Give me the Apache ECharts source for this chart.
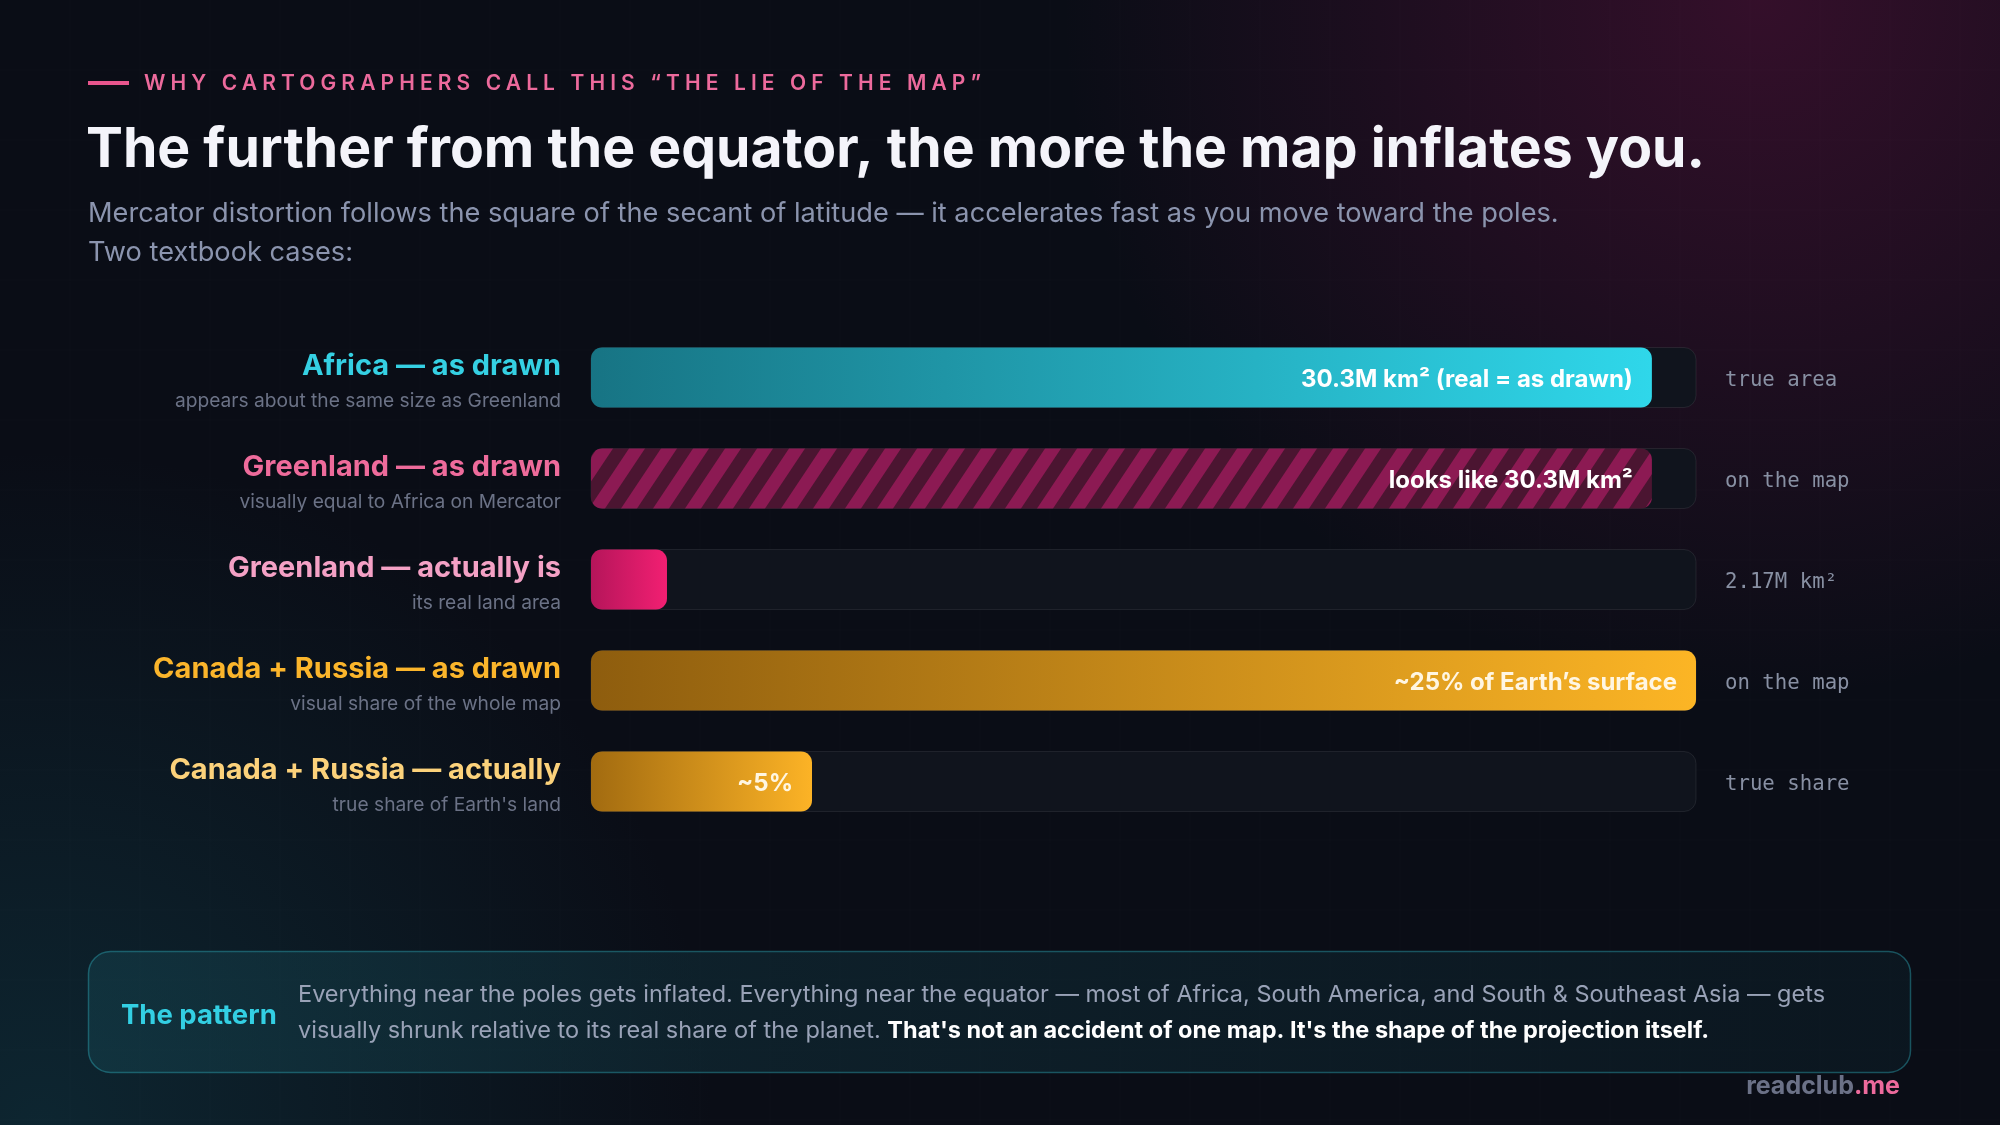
<!DOCTYPE html>
<html><head><meta charset="utf-8">
<script src="https://cdn.jsdelivr.net/npm/echarts@6/dist/echarts.min.js"></script>
<style>html,body{margin:0;padding:0;background:#0a0d16;} #c{width:2000px;height:1125px;}</style>
</head><body><div id="c"></div>
<script>
// ---------- data ----------
const categories = ['Africa — as drawn', 'Greenland — as drawn', 'Greenland — actually is', 'Canada + Russia — as drawn', 'Canada + Russia — actually'];
const subtitles = ['appears about the same size as Greenland', 'visually equal to Africa on Mercator', 'its real land area', 'visual share of the whole map', "true share of Earth's land"];
const areaValues = [30.3, 30.3, 2.17, '-', '-'];   // million km²
const shareValues = ['-', '-', '-', 25, 5];        // % of Earth's surface
const barLabels = ['30.3M km² (real = as drawn)', 'looks like 30.3M km²', '', '~25% of Earth’s surface', '~5%'];
const rightNotes = ['true area', 'on the map', '2.17M km²', 'on the map', 'true share'];
const tagLine = 'WHY CARTOGRAPHERS CALL THIS “THE LIE OF THE MAP”';
const headline = 'The further from the equator, the more the map inflates you.';
const subLines = ['Mercator distortion follows the square of the secant of latitude — it accelerates fast as you move toward the poles.', 'Two textbook cases:'];
const noteHead = 'The pattern';
const noteLine1 = 'Everything near the poles gets inflated. Everything near the equator — most of Africa, South America, and South & Southeast Asia — gets';
const noteLine2a = 'visually shrunk relative to its real share of the planet. ';
const noteLine2b = "That's not an accident of one map. It's the shape of the projection itself.";

// letter spacing for the tag line only (canvas letterSpacing, state saved/restored)
const spacingMap = {};
spacingMap[tagLine] = '5.1px';
const origFill = CanvasRenderingContext2D.prototype.fillText;
CanvasRenderingContext2D.prototype.fillText = function (t) {
  const ls = spacingMap[t];
  if (ls && 'letterSpacing' in this) {
    this.save();
    this.letterSpacing = ls;
    const r = origFill.apply(this, arguments);
    this.letterSpacing = '0px';
    this.restore();
    return r;
  }
  if ('letterSpacing' in this && this.letterSpacing !== '0px') this.letterSpacing = '0px';
  return origFill.apply(this, arguments);
};

function stripes() {
  const c = document.createElement('canvas'); c.width = 32; c.height = 48;
  const g = c.getContext('2d');
  g.fillStyle = '#4b1531'; g.fillRect(0, 0, 32, 48);
  g.fillStyle = '#8c1a53';
  for (let k = -1; k <= 1; k++) {
    const o = k * 32; g.beginPath();
    g.moveTo(o, 48); g.lineTo(o + 16, 48); g.lineTo(o + 48, 0); g.lineTo(o + 32, 0);
    g.closePath(); g.fill();
  }
  return c;
}
const lin = (a, b) => ({ type: 'linear', x: 0, y: 0, x2: 1, y2: 0, colorStops: [{ offset: 0, color: a }, { offset: 1, color: b }] });
const areaFills = [lin('#177484', '#2fd7ea'), { image: stripes(), repeat: 'repeat' }, lin('#b5155a', '#f21f72'), null, null];
const shareFills = [null, null, null, lin('#8e5d0e', '#fcb525'), lin('#a26b10', '#fcb326')];
const labelColors = ['#ffffff', '#ffffff', '#ffffff', '#fff6e2', '#fff6e2'];

const titleColors = ['#35d0e3', '#ee6b9b', '#f4a1c5', '#fbb52b', '#fcd27b'];
const titleRich = {};
titleColors.forEach((c, i) => titleRich['t' + i] = { color: c, fontSize: 29, fontWeight: 700, fontFamily: 'Inter', lineHeight: 38, padding: [11, 0, 0, 0], align: 'right' });
titleRich.s = { color: '#6b7286', fontSize: 19.2, fontFamily: 'Inter', lineHeight: 34, padding: [9, 0, 0, 0], align: 'right' };

// decorative faint grid
const gridLines = [];
for (let x = 70; x < 2000; x += 70) gridLines.push({ type: 'line', z: -90, silent: true, shape: { x1: x, y1: 0, x2: x, y2: 1125 }, style: { stroke: 'rgba(255,255,255,0.018)', lineWidth: 1 } });
for (let y = 70; y < 1125; y += 70) gridLines.push({ type: 'line', z: -90, silent: true, shape: { x1: 0, y1: y, x2: 2000, y2: y }, style: { stroke: 'rgba(255,255,255,0.018)', lineWidth: 1 } });

const chart = echarts.init(document.getElementById('c'), null, { renderer: 'canvas', width: 2000, height: 1125 });
const barLabel = () => ({
  show: true, position: 'insideRight', distance: 19, offset: [0, 2],
  formatter: p => barLabels[p.dataIndex],
  color: '#fff', fontSize: 24, fontWeight: 700, fontFamily: 'Inter'
});
chart.setOption({
  backgroundColor: '#0a0d16',
  animation: false,
  tooltip: { show: false },
  grid: { left: 591, right: 304, top: 327, bottom: 293 },
  xAxis: [
    { type: 'value', min: 0, max: 31.56, show: false },
    { type: 'value', min: 0, max: 25, show: false }
  ],
  yAxis: [
    { type: 'category', data: categories, inverse: true, axisLine: { show: false }, axisTick: { show: false }, splitLine: { show: false },
      axisLabel: { margin: 30, align: 'right', formatter: (v, i) => `{t${i}|${v}}\n{s|${subtitles[i]}}`, rich: titleRich } },
    { type: 'category', data: categories, inverse: true, position: 'right', axisLine: { show: false }, axisTick: { show: false }, splitLine: { show: false },
      axisLabel: { margin: 29, align: 'left', formatter: (v, i) => `{r|${rightNotes[i]}}`,
        rich: { r: { color: '#8890a3', fontSize: 20.7, fontFamily: 'DejaVu Sans Mono', padding: [6, 0, 0, 0] } } } }
  ],
  series: [
    { type: 'bar', name: 'Area (M km²)', xAxisIndex: 0, yAxisIndex: 0, barWidth: 60, barGap: '-100%',
      showBackground: true,
      backgroundStyle: { color: '#10141d', borderColor: 'rgba(255,255,255,0.08)', borderWidth: 1, borderRadius: 12 },
      data: areaValues.map((v, i) => ({ value: v, itemStyle: { color: areaFills[i] || '#000' }, label: { color: labelColors[i] } })),
      itemStyle: { borderRadius: 11 },
      label: barLabel() },
    { type: 'bar', name: 'Share of Earth (%)', xAxisIndex: 1, yAxisIndex: 0, barWidth: 60, barGap: '-100%',
      data: shareValues.map((v, i) => ({ value: v, itemStyle: { color: shareFills[i] || '#000' }, label: { color: labelColors[i] } })),
      itemStyle: { borderRadius: 11 },
      label: barLabel() }
  ],
  graphic: { elements: [
    { type: 'rect', z: -100, silent: true, shape: { x: 0, y: 0, width: 2000, height: 1125 },
      style: { fill: { type: 'radial', x: 0.88, y: 0, r: 0.62, colorStops: [{ offset: 0, color: 'rgba(110,18,70,0.42)' }, { offset: 1, color: 'rgba(110,18,70,0)' }] } } },
    { type: 'rect', z: -100, silent: true, shape: { x: 0, y: 0, width: 2000, height: 1125 },
      style: { fill: { type: 'radial', x: 0.02, y: 1, r: 0.6, colorStops: [{ offset: 0, color: 'rgba(20,90,105,0.32)' }, { offset: 1, color: 'rgba(20,90,105,0)' }] } } },
    ...gridLines,
    { type: 'rect', silent: true, shape: { x: 88, y: 81, width: 41, height: 4 }, style: { fill: '#e8558d' } },
    { type: 'text', silent: true, x: 144, y: 84, style: { text: tagLine, fill: '#ec6a9c', fontSize: 21, fontWeight: 600, fontFamily: 'Inter', verticalAlign: 'middle', align: 'left' } },
    { type: 'text', silent: true, x: 86, y: 150, style: { text: headline, fill: '#f4f4fa', fontSize: 55.3, fontWeight: 700, fontFamily: 'Inter', verticalAlign: 'middle', align: 'left' } },
    { type: 'text', silent: true, x: 88, y: 214, style: { text: subLines[0], fill: '#8b94ae', fontSize: 27.2, fontFamily: 'Inter', verticalAlign: 'middle', align: 'left' } },
    { type: 'text', silent: true, x: 88, y: 253, style: { text: subLines[1], fill: '#8b94ae', fontSize: 27.2, fontFamily: 'Inter', verticalAlign: 'middle', align: 'left' } },
    { type: 'rect', silent: true, shape: { x: 88.5, y: 951.5, width: 1822, height: 121, r: 22 },
      style: { fill: lin('rgba(22,70,82,0.45)', 'rgba(14,40,50,0.35)'), stroke: 'rgba(50,190,205,0.38)', lineWidth: 1.5 } },
    { type: 'text', silent: true, x: 121, y: 1016, style: { text: noteHead, fill: '#33cfe3', fontSize: 27.5, fontWeight: 700, fontFamily: 'Inter', verticalAlign: 'middle', align: 'left' } },
    { type: 'text', silent: true, x: 298, y: 1013, style: {
      text: `{n|${noteLine1}}\n{n|${noteLine2a}}{b|${noteLine2b}}`, verticalAlign: 'middle', align: 'left',
      rich: { n: { fill: '#99a2b7', fontSize: 23.5, fontFamily: 'Inter', lineHeight: 36 }, b: { fill: '#ffffff', fontSize: 23.5, fontWeight: 700, fontFamily: 'Inter', lineHeight: 36 } } } },
    { type: 'text', silent: true, x: 1900, y: 1086, style: {
      text: '{a|readclub}{b|.me}', verticalAlign: 'middle', align: 'right',
      rich: { a: { fill: '#6b7187', fontSize: 25, fontWeight: 700, fontFamily: 'Inter' }, b: { fill: '#ec6a9c', fontSize: 25, fontWeight: 700, fontFamily: 'Inter' } } } }
  ] }
});
</script></body></html>
